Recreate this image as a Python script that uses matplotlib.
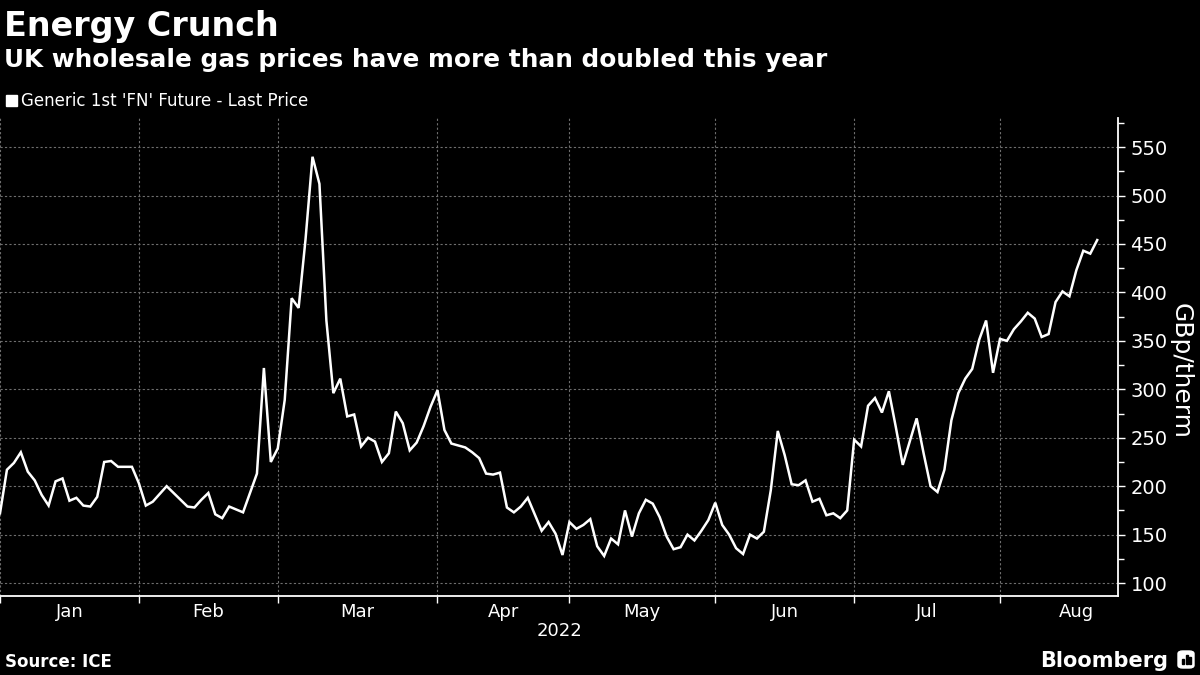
import numpy as np
import matplotlib.pyplot as plt
from matplotlib.patches import FancyBboxPatch, Rectangle

# Data: UK wholesale gas, generic 1st 'FN' future, one value per trading day (Jan 4 - Aug 19, 2022)
months = ['Jan', 'Feb', 'Mar', 'Apr', 'May', 'Jun', 'Jul', 'Aug']
trading_days = [20, 20, 23, 19, 21, 20, 21, 22]
prices = [
    # Jan
    172, 217, 224, 235, 215, 206, 191, 180, 205, 208,
    185, 188, 180, 179, 189, 225, 226, 220, 220, 220,
    # Feb
    203, 180, 184, 192, 200, 193, 186, 179, 178, 186,
    193, 171, 167, 179, 176, 173, 193, 213, 322, 225,
    # Mar
    239, 289, 394, 384, 455, 540, 512, 371, 296, 311,
    272, 274, 241, 250, 246, 225, 234, 277, 265, 237,
    245, 262, 282,
    # Apr
    299, 258, 244, 242, 240, 235, 229, 213, 212, 214,
    178, 173, 179, 188, 171, 154, 163, 151, 129,
    # May
    163, 156, 160, 166, 138, 128, 146, 140, 175, 148,
    172, 186, 182, 168, 148, 135, 137, 150, 144, 154,
    165,
    # Jun
    183, 160, 150, 136, 130, 150, 146, 153, 196, 257,
    232, 202, 201, 206, 184, 187, 170, 172, 167, 175,
    # Jul
    248, 241, 283, 291, 276, 298, 261, 222, 246, 270,
    234, 200, 194, 217, 268, 296, 311, 321, 351, 371,
    317,
    # Aug
    352, 350, 362, 370, 379, 373, 354, 357, 390, 401,
    396, 423, 443, 440, 454,
]
y_ticks = [100, 150, 200, 250, 300, 350, 400, 450, 500, 550]

plt.rcParams['font.family'] = ['Liberation Sans Narrow', 'DejaVu Sans']

fig = plt.figure(figsize=(12, 6.75), dpi=100, facecolor='black')
ax = fig.add_axes([0, 0.1175, 0.9317, 0.7077], facecolor='black')

x = np.arange(len(prices))
ax.plot(x, prices, color='white', linewidth=1.8, solid_joinstyle='miter')

# month boundaries as major ticks, month names centred on each month
starts = np.concatenate([[0], np.cumsum(trading_days)[:-1]])
centers = starts + np.array(trading_days) / 2
ax.set_xticks(starts)
ax.set_xticklabels([])
ax.set_xticks(centers, minor=True)
ax.set_xticklabels(months, minor=True)
ax.tick_params(axis='x', which='major', length=5, width=1, color='white', direction='out')
ax.tick_params(axis='x', which='minor', length=0, labelsize=13, labelcolor='white', pad=5)
ax.set_xlim(0, 161)

ax.set_ylim(87, 580)
ax.yaxis.tick_right()
ax.yaxis.set_label_position('right')
ax.set_yticks(y_ticks)
ax.set_yticks(np.arange(125, 580, 50), minor=True)
ax.tick_params(axis='y', which='major', length=5, width=1, color='white',
               labelsize=14, labelcolor='white', pad=4)
ax.tick_params(axis='y', which='minor', length=4, width=1, color='white')
ax.set_ylabel('GBp/therm', color='white', fontsize=18, rotation=270, va='center')
ax.yaxis.set_label_coords(1.056, 0.47)

ax.set_xlabel('2022', color='white', fontsize=13, labelpad=1)

ax.grid(True, which='major', color='#6e6e6e', linestyle=(0, (2, 2)), linewidth=0.8)

for side in ['left', 'top']:
    ax.spines[side].set_visible(False)
for side in ['bottom', 'right']:
    ax.spines[side].set_color('white')
    ax.spines[side].set_linewidth(1.3)

# titles and legend
fig.text(0.003, 1 - 36 / 675, 'Energy Crunch', color='white', fontsize=24,
         fontweight='bold', va='baseline', ha='left')
fig.text(0.003, 1 - 66.5 / 675, 'UK wholesale gas prices have more than doubled this year',
         color='white', fontsize=17.8, fontweight='bold', va='baseline', ha='left')
fig.patches.append(Rectangle((6 / 1200, 1 - 106 / 675), 11 / 1200, 11 / 675,
                             transform=fig.transFigure, color='white'))
fig.text(21 / 1200, 1 - 106 / 675, "Generic 1st 'FN' Future - Last Price", color='white',
         fontsize=12, va='baseline', ha='left')

fig.text(5 / 1200, 1 - 667 / 675, 'Source: ICE', color='white', fontsize=12,
         fontweight='bold', va='baseline', ha='left')
fig.text(1168 / 1200, 1 - 667 / 675, 'Bloomberg', color='white', fontsize=15,
         fontweight='bold', va='baseline', ha='right')
fig.patches.append(FancyBboxPatch((1178 / 1200, 1 - 668 / 675), 16 / 1200, 17 / 675,
                                  boxstyle='round,pad=0,rounding_size=0.004',
                                  transform=fig.transFigure, color='white'))
for i, h in enumerate([5, 9, 7]):
    fig.patches.append(Rectangle(((1182 + i * 3.5) / 1200, 1 - 664 / 675), 2 / 1200, h / 675,
                                 transform=fig.transFigure, color='black'))

fig.savefig('out.png', dpi=100, facecolor='black')
